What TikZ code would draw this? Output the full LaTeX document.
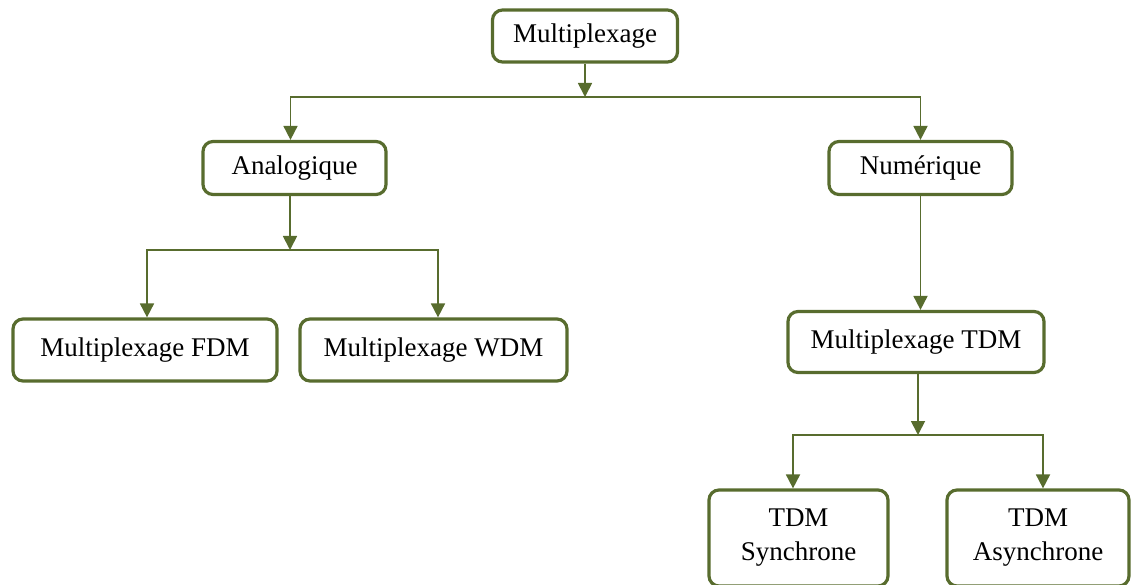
\documentclass[tikz,border=0pt]{standalone}
\usepackage{fontspec}
\setmainfont{Liberation Serif}
\usetikzlibrary{arrows.meta,calc}
\definecolor{boxgreen}{RGB}{88,108,46}
\begin{document}
\begin{tikzpicture}[x=1pt,y=-1pt,
  box/.style={draw=boxgreen, line width=3.2pt, rounded corners=10pt, fill=white,
    inner sep=0pt, font=\fontsize{27}{34}\selectfont, align=center},
  link/.style={draw=boxgreen, line width=1.8pt},
  arr/.style={link, -{Triangle[length=14pt,width=14pt]}}]
\useasboundingbox (0,0) rectangle (1133,585);

% boxes
\node[box, minimum width=185, minimum height=52] (mux) at (585,36) {Multiplexage};
\node[box, minimum width=183, minimum height=53] (ana) at (294.5,168) {Analogique};
\node[box, minimum width=183, minimum height=53] (num) at (920.5,168) {Numérique};
\node[box, minimum width=264, minimum height=62] (fdm) at (145,350) {Multiplexage FDM};
\node[box, minimum width=267, minimum height=62] (wdm) at (433.5,350) {Multiplexage WDM};
\node[box, minimum width=256, minimum height=61] (tdm) at (916,342) {Multiplexage TDM};
\node[box, minimum width=179, minimum height=96] (syn) at (798.5,538) {TDM\\Synchrone};
\node[box, minimum width=182, minimum height=96] (asyn) at (1038,538) {TDM\\Asynchrone};

% junction points of the branches
\coordinate (j1) at (585,97);
\coordinate (j2) at (290,250);
\coordinate (j3) at (918,435);

% first level
\draw[arr] (mux.south) -- (j1);
\draw[arr] (j1) -| ($(ana.north)+(-4,0)$);
\draw[arr] (j1) -| (num.north);

% analog branch
\draw[arr] (ana.south -| j2) -- (j2);
\draw[arr] (j2) -| ($(fdm.north)+(2,0)$);
\draw[arr] (j2) -| ($(wdm.north)+(4.5,0)$);

% digital branch
\draw[arr] (num.south) -- (num.south |- tdm.north);
\draw[arr] (tdm.south -| j3) -- (j3);
\draw[arr] (j3) -| ($(syn.north)+(-5.5,0)$);
\draw[arr] (j3) -| ($(asyn.north)+(5,0)$);
\end{tikzpicture}
\end{document}
